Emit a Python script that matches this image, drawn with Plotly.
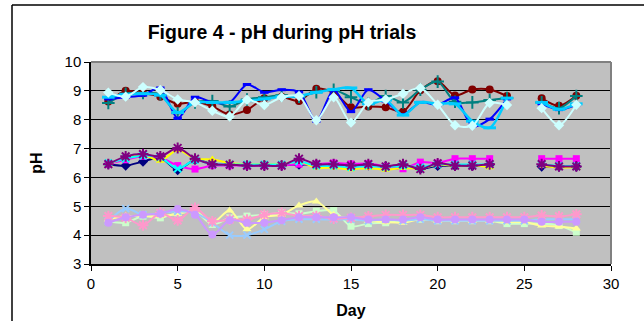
import plotly.graph_objects as go

days = list(range(1, 29))
N = None

# Mid group (pH ~6.5)
ph_navy = [6.46,6.41,6.55,6.69,6.26,6.61,6.46,6.44,6.41,6.42,6.42,6.45,6.45,6.45,6.40,6.42,6.38,6.38,6.30,6.40,6.40,6.40,6.45,N,N,6.38,6.38,6.38]
ph_magenta = [6.46,6.61,6.73,6.69,6.41,6.29,6.41,6.41,6.41,6.41,6.41,6.46,6.46,6.50,6.47,6.48,6.38,6.30,6.53,6.50,6.65,6.65,6.65,N,N,6.65,6.65,6.65]
ph_yellow = [6.46,6.69,6.79,6.58,6.95,6.65,6.62,6.50,6.46,6.46,6.46,6.55,6.34,6.34,6.28,6.33,6.27,6.33,6.30,6.45,6.40,6.42,6.35,N,N,6.40,6.35,6.35]
ph_cyan = [6.50,6.65,6.75,6.70,6.30,6.60,6.45,6.45,6.45,6.45,6.45,6.55,6.40,6.40,6.35,6.40,6.35,6.40,6.35,6.45,6.45,6.45,6.45,N,N,6.45,6.40,6.40]
ph_purple = [6.46,6.73,6.81,6.73,7.02,6.65,6.46,6.44,6.41,6.41,6.41,6.65,6.46,6.46,6.41,6.46,6.38,6.46,6.29,6.49,6.41,6.41,6.46,N,N,6.46,6.38,6.38]

# High group (pH ~8.5-9)
ph_maroon = [8.63,9.00,8.92,8.80,8.55,8.62,8.46,8.18,8.34,8.74,8.80,8.65,9.07,8.95,8.43,8.46,8.43,8.28,9.02,9.33,8.84,9.05,9.05,8.82,N,8.74,8.48,8.83]
ph_teal = [8.58,8.90,8.93,8.88,8.22,8.60,8.65,8.46,8.70,8.78,8.85,8.80,8.95,9.04,8.78,8.55,8.82,8.60,9.04,9.32,8.62,8.60,8.68,8.75,N,8.60,8.40,8.82]
ph_blue = [8.72,8.78,8.85,9.10,8.05,8.78,8.60,8.60,9.22,8.95,9.04,8.96,7.95,9.03,8.28,9.04,8.65,8.18,8.60,8.52,8.76,7.78,8.02,8.72,N,8.55,8.35,8.52]
ph_lightblue = [8.78,8.88,8.90,8.85,8.25,8.60,8.60,8.60,8.66,8.72,8.80,8.82,8.95,9.05,9.10,8.55,8.68,8.16,8.60,8.55,8.55,7.95,7.72,8.75,N,8.60,8.36,8.55]
ph_lightcyan = [8.94,8.80,9.13,9.03,8.70,8.60,8.31,8.11,8.69,8.51,8.78,8.82,7.98,8.78,7.90,8.60,8.70,8.90,9.10,8.52,7.81,7.79,8.58,8.51,N,8.40,7.81,8.52]

# Low group (pH ~4.5)
ph_lightgreen = [4.48,4.43,4.66,4.60,4.77,4.83,4.37,4.60,4.66,4.71,4.77,4.74,4.83,4.85,4.31,4.40,4.43,4.50,4.55,4.50,4.50,4.50,4.50,4.40,4.40,4.40,4.33,4.10]
ph_lightyellow = [4.54,4.66,4.66,4.66,4.74,4.83,4.43,4.85,4.20,4.62,4.71,5.03,5.17,4.71,4.57,4.50,4.45,4.43,4.55,4.50,4.50,4.50,4.50,4.45,4.45,4.33,4.30,4.23]
ph_paleblue = [4.48,4.92,4.71,4.77,4.83,4.77,4.43,4.00,4.00,4.20,4.48,4.55,4.55,4.54,4.55,4.50,4.55,4.50,4.55,4.50,4.50,4.50,4.50,4.50,4.50,4.55,4.55,4.55]
ph_rose = [4.66,4.60,4.34,4.77,4.51,4.94,4.48,4.54,4.54,4.71,4.77,4.66,4.66,4.57,4.60,4.65,4.70,4.70,4.70,4.62,4.62,4.62,4.62,4.62,4.62,4.68,4.65,4.72]
ph_lavender = [4.43,4.62,4.71,4.74,4.91,4.71,4.02,4.52,4.43,4.43,4.52,4.62,4.62,4.62,4.62,4.54,4.54,4.54,4.62,4.54,4.54,4.54,4.54,4.54,4.54,4.46,4.46,4.46]

series = [
    (ph_navy, "#000080", "diamond", 8, False, 2),
    (ph_magenta, "#FF00FF", "square", 7, False, 2),
    (ph_yellow, "#FFFF00", "triangle-up", 8, False, 2),
    (ph_cyan, "#00FFFF", "x-thin-open", 7, True, 2),
    (ph_purple, "#800080", "asterisk-open", 9, True, 2),
    (ph_maroon, "#800000", "circle", 8, False, 2),
    (ph_teal, "#008080", "cross-thin-open", 9, True, 2),
    (ph_blue, "#0000FF", "line-ew-open", 6, True, 2),
    (ph_lightblue, "#00CCFF", "line-ew-open", 9, True, 2.5),
    (ph_lightcyan, "#CCFFFF", "diamond", 8, False, 2),
    (ph_lightgreen, "#CCFFCC", "square", 7, False, 2),
    (ph_lightyellow, "#FFFF99", "triangle-up", 8, False, 2),
    (ph_paleblue, "#99CCFF", "x-thin-open", 7, True, 2),
    (ph_rose, "#FF99CC", "asterisk-open", 9, True, 2),
    (ph_lavender, "#CC99FF", "circle", 8, False, 2),
]

fig = go.Figure()
for vals, col, sym, size, is_open, lw in series:
    if is_open:
        mk = dict(symbol=sym, size=size, color=col, line=dict(color=col, width=2 if sym != "line-ew-open" else 3))
    else:
        mk = dict(symbol=sym, size=size, color=col, line=dict(color=col, width=0))
    fig.add_trace(go.Scatter(
        x=days, y=vals, mode="lines+markers",
        line=dict(color=col, width=lw, shape="spline", smoothing=0.8),
        marker=mk, connectgaps=False, showlegend=False,
    ))

FONT = "Arial, Liberation Sans, sans-serif"
L, R, T, B = 91, 33, 62, 57
W, H = 644, 321
pw, ph = W - L - R, H - T - B

def px_x(p):
    return (p - L) / pw

def px_y(p):
    return (H - B - p) / ph

fig.update_layout(
    width=W, height=H,
    margin=dict(l=L, r=R, t=T, b=B, autoexpand=False),
    paper_bgcolor="white",
    plot_bgcolor="#C0C0C0",
    font=dict(family=FONT, color="black", size=15),
    title=dict(text="<b>Figure 4 - pH during pH trials</b>", font=dict(size=19.5, family=FONT, color="black"),
               xref="container", yref="container", x=282 / W, xanchor="center", y=1 - 32 / H, yanchor="middle"),
    xaxis=dict(range=[0, 30], tickvals=[0, 5, 10, 15, 20, 25, 30], showgrid=False, zeroline=False,
               automargin=False,
               showline=True, linecolor="black", linewidth=1.5, ticks="outside", ticklen=5, tickcolor="black",
               tickfont=dict(size=15, family=FONT),
               title=dict(text="<b>Day</b>", font=dict(size=16, family=FONT), standoff=14)),
    yaxis=dict(range=[3, 10], tickvals=[3, 4, 5, 6, 7, 8, 9, 10], showgrid=True, gridcolor="black", gridwidth=1,
               automargin=False,
               zeroline=False, showline=True, linecolor="black", linewidth=1.5, ticks="outside", ticklen=5,
               tickcolor="black", tickfont=dict(size=15, family=FONT),
               title=dict(text="<b>pH</b>", font=dict(size=16, family=FONT), standoff=18)),
    shapes=[
        dict(type="line", xref="paper", yref="paper", x0=0, x1=1, y0=1, y1=1, line=dict(color="#808080", width=2)),
        dict(type="line", xref="paper", yref="paper", x0=1, x1=1, y0=0, y1=1, line=dict(color="#808080", width=2)),
        dict(type="line", xref="paper", yref="paper", x0=px_x(12), x1=px_x(12), y0=px_y(400), y1=px_y(5),
             line=dict(color="black", width=1.5)),
        dict(type="line", xref="paper", yref="paper", x0=px_x(12), x1=px_x(800), y0=px_y(5), y1=px_y(5),
             line=dict(color="black", width=1.5)),
    ],
)

fig.write_html("out.html")
